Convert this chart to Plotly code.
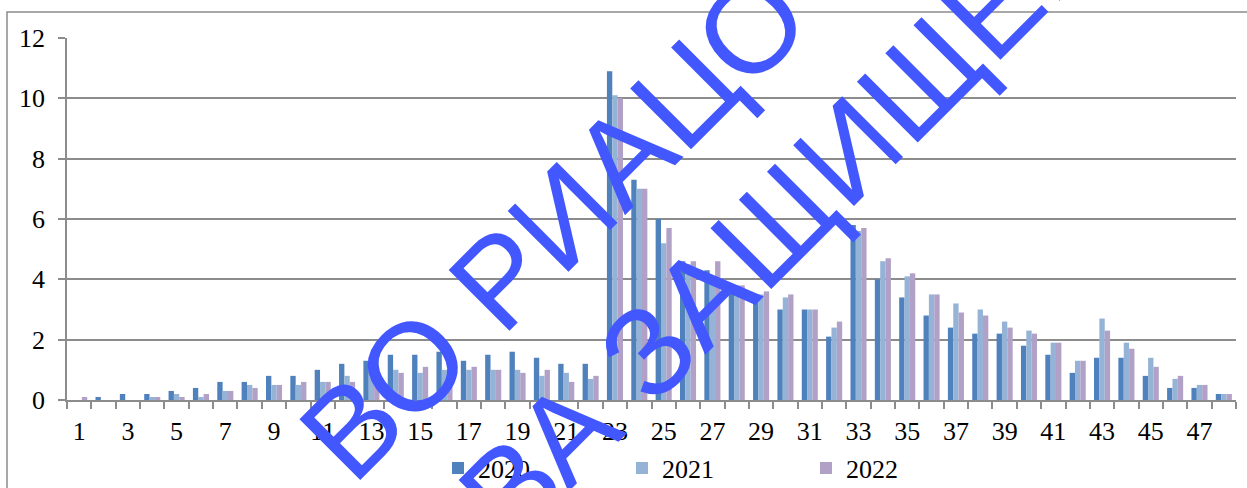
import plotly.graph_objects as go

categories = list(range(1, 49))
tick_labels = [str(i) for i in range(1, 49, 2)]

y2020 = [0, 0.1, 0.2, 0.2, 0.3, 0.4, 0.6, 0.6, 0.8, 0.8,
         1.0, 1.2, 1.3, 1.5, 1.5, 1.6, 1.3, 1.5, 1.6, 1.4,
         1.2, 1.2, 10.9, 7.3, 6.0, 4.6, 4.3, 3.6, 3.5, 3.0,
         3.0, 2.1, 5.8, 4.0, 3.4, 2.8, 2.4, 2.2, 2.2, 1.8,
         1.5, 0.9, 1.4, 1.4, 0.8, 0.4, 0.4, 0.2]
y2021 = [0, 0, 0, 0.1, 0.2, 0.1, 0.3, 0.5, 0.5, 0.5,
         0.6, 0.8, 1.0, 1.0, 0.9, 1.0, 1.0, 1.0, 1.0, 0.8,
         0.9, 0.7, 10.1, 7.0, 5.2, 4.5, 4.1, 3.8, 3.5, 3.4,
         3.0, 2.4, 5.6, 4.6, 4.1, 3.5, 3.2, 3.0, 2.6, 2.3,
         1.9, 1.3, 2.7, 1.9, 1.4, 0.7, 0.5, 0.2]
y2022 = [0.1, 0, 0, 0.1, 0.1, 0.2, 0.3, 0.4, 0.5, 0.6,
         0.6, 0.6, 0.9, 0.9, 1.1, 1.0, 1.1, 1.0, 0.9, 1.0,
         0.6, 0.8, 10.0, 7.0, 5.7, 4.6, 4.6, 3.8, 3.6, 3.5,
         3.0, 2.6, 5.7, 4.7, 4.2, 3.5, 2.9, 2.8, 2.4, 2.2,
         1.9, 1.3, 2.3, 1.7, 1.1, 0.8, 0.5, 0.2]

series_names = ["2020", "2021", "2022"]
colors = ["#4F81BD", "#95B3D7", "#B2A1C7"]

W, H = 1247, 488
L, R, T, B = 67, 11, 38, 88
PW, PH = W - L - R, H - T - B


def px2paper(px, py):
    return (px - L) / PW, (H - B - py) / PH


fig = go.Figure()
for name, vals, c in zip(series_names, [y2020, y2021, y2022], colors):
    fig.add_trace(go.Bar(x=categories, y=vals, name=name,
                         marker=dict(color=c, line=dict(width=0))))

gray = "#8c8c8c"
serif = "Liberation Serif"

fig.update_layout(
    width=W, height=H,
    margin=dict(l=L, r=R, t=T, b=B, autoexpand=False),
    paper_bgcolor="white", plot_bgcolor="white",
    barmode="group", bargap=0.34, bargroupgap=0,
    font=dict(family=serif, size=26, color="black"),
    showlegend=True,
    legend=dict(orientation="h", x=px2paper(438, 0)[0], xanchor="left",
                y=px2paper(0, 468)[1], yanchor="middle",
                font=dict(family=serif, size=26, color="black"),
                entrywidth=139, entrywidthmode="pixels",
                bgcolor="rgba(0,0,0,0)"),
    xaxis=dict(range=[0.5, 48.5], tickmode="array",
               tickvals=list(range(1, 49, 2)), ticktext=tick_labels,
               ticks="outside", ticklen=7, tickcolor="rgba(0,0,0,0)",
               ticklabelstandoff=0,
               minor=dict(tick0=0.5, dtick=1, ticks="outside", ticklen=7,
                          tickcolor=gray, tickwidth=1.5, showgrid=False),
               showline=True, linecolor=gray, linewidth=1.5,
               showgrid=False, zeroline=False,
               tickfont=dict(family=serif, size=26, color="black")),
    yaxis=dict(range=[0, 12], tickmode="linear", tick0=0, dtick=2,
               ticks="outside", ticklen=7, tickcolor=gray, tickwidth=1.5,
               ticklabelstandoff=8,
               showline=True, linecolor=gray, linewidth=1.5,
               showgrid=True, gridcolor=gray, gridwidth=1.5,
               zeroline=False,
               tickfont=dict(family=serif, size=26, color="black")),
)

# outer chart-area border
x0, y0 = px2paper(7, 12)
x1, y1 = px2paper(1300, 560)
fig.add_shape(type="rect", xref="paper", yref="paper",
              x0=x0, y0=y1, x1=x1, y1=y0,
              line=dict(color=gray, width=1.5), fillcolor="rgba(0,0,0,0)",
              layer="below")

# watermark
wm_color = "#4357FF"
wm_font = dict(family="Liberation Sans", size=125, color=wm_color)
for text, (cx, cy) in [("ВО РИАЦО", (553, 225)), ("ПРАВА ЗАЩИЩЕНЫ", (734, 264))]:
    ax, ay = px2paper(cx, cy)
    fig.add_annotation(text=text, xref="paper", yref="paper", x=ax, y=ay,
                       xanchor="center", yanchor="middle", showarrow=False,
                       textangle=-45, font=wm_font)

fig.write_html("out.html",
               config={"displayModeBar": False},
               post_script="document.body.style.margin='0';document.body.style.overflow='hidden';")
